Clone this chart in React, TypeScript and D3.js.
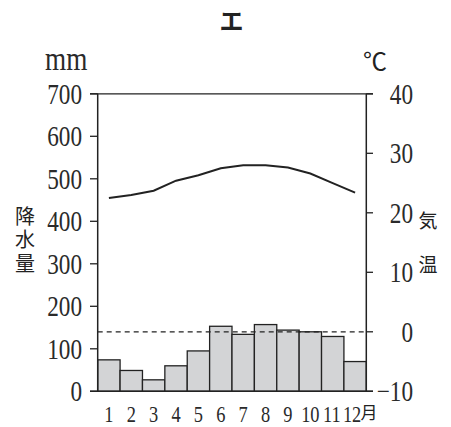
import React from "react";
import * as d3 from "d3";

const months = ["1", "2", "3", "4", "5", "6", "7", "8", "9", "10", "11", "12"];
const precipitation = [74, 49, 27, 60, 95, 153, 134, 157, 144, 140, 129, 70];
const temperature = [22.5, 23.0, 23.7, 25.4, 26.3, 27.5, 28.0, 28.0, 27.6, 26.6, 25.0, 23.4];
const precipTicks = [0, 100, 200, 300, 400, 500, 600, 700];
const tempTicks = [-10, 0, 10, 20, 30, 40];

const W = 451, H = 427;
const left = 97.7, right = 366.3, top = 93.8, bottom = 391.3;
const serif = "'Liberation Serif', 'DejaVu Serif', serif";
const cjk = "'Noto Sans CJK JP', sans-serif";
const SX = 0.8;

function T({ x, y, size, anchor = "start", children, font = serif, weight = 400 }: any) {
  return (
    <text
      transform={`translate(${x},${y}) scale(${SX},1)`}
      fontFamily={font}
      fontSize={size}
      fontWeight={weight}
      textAnchor={anchor}
      fill="#2a2a2a"
    >
      {children}
    </text>
  );
}

export default function App() {
  const x = d3.scaleBand<string>().domain(months).range([left, right]).padding(0);
  const yP = d3.scaleLinear().domain([0, 700]).range([bottom, top]);
  const yT = d3.scaleLinear().domain([-10, 40]).range([bottom, top]);
  const line = d3
    .line<number>()
    .x((_, i) => (x(months[i]) as number) + x.bandwidth() / 2)
    .y((d) => yT(d));

  return (
    <svg width={W} height={H} style={{ position: "absolute", left: 0, top: 0 }}>
      <rect width={W} height={H} fill="#fff" />
      <text x={231.5} y={30} fontFamily={cjk} fontSize={24} fontWeight={700} textAnchor="middle" fill="#222">
        エ
      </text>
      <T x={45} y={70} size={34}>mm</T>
      <text x={375} y={70} fontFamily={cjk} fontSize={24} fontWeight={400} textAnchor="middle" fill="#222">℃</text>

      {precipitation.map((v, i) => (
        <rect
          key={i}
          x={x(months[i])}
          y={yP(v)}
          width={x.bandwidth()}
          height={yP(0) - yP(v)}
          fill="#d3d4d6"
          stroke="#222"
          strokeWidth={1.3}
        />
      ))}

      <line x1={left} x2={right} y1={yT(0)} y2={yT(0)} stroke="#222" strokeWidth={1.2} strokeDasharray="5,4" />

      <path d={line(temperature) || ""} fill="none" stroke="#222" strokeWidth={2} />

      <line x1={left} x2={left} y1={top} y2={bottom} stroke="#222" strokeWidth={1.5} />
      <line x1={right} x2={right} y1={top} y2={bottom} stroke="#222" strokeWidth={1.5} />
      <line x1={90} x2={373} y1={top} y2={top} stroke="#222" strokeWidth={1.3} />
      <line x1={90} x2={373} y1={bottom} y2={bottom} stroke="#222" strokeWidth={1.5} />

      {precipTicks.map((t) => (
        <g key={"p" + t}>
          <line x1={90} x2={left} y1={yP(t)} y2={yP(t)} stroke="#222" strokeWidth={1.3} />
          <T x={82} y={yP(t) + 10} size={29} anchor="end">{t}</T>
        </g>
      ))}
      {tempTicks.map((t) => (
        <g key={"t" + t}>
          <line x1={right} x2={373} y1={yT(t)} y2={yT(t)} stroke="#222" strokeWidth={1.3} />
          <T x={413} y={yT(t) + 10} size={29} anchor="end">{t < 0 ? "−" + Math.abs(t) : t}</T>
        </g>
      ))}

      {months.map((m, i) => (
        <T
          key={"m" + m}
          x={(x(m) as number) + x.bandwidth() / 2 - (i === 11 ? 3 : i === 10 ? 1 : 0)}
          y={421.5}
          size={23}
          anchor="middle"
        >
          {m}
        </T>
      ))}
      <text x={369} y={419} fontFamily={cjk} fontSize={17} fontWeight={400} textAnchor="middle" fill="#222">月</text>

      <text
        x={25}
        y={206}
        fontFamily={cjk}
        fontSize={20}
        fontWeight={400}
        fill="#222"
        style={{ writingMode: "vertical-rl" as any, letterSpacing: "3.5px" }}
      >
        降水量
      </text>
      <text
        x={428}
        y={211}
        fontFamily={cjk}
        fontSize={19}
        fontWeight={400}
        fill="#222"
        style={{ writingMode: "vertical-rl" as any, letterSpacing: "25px" }}
      >
        気温
      </text>
    </svg>
  );
}
